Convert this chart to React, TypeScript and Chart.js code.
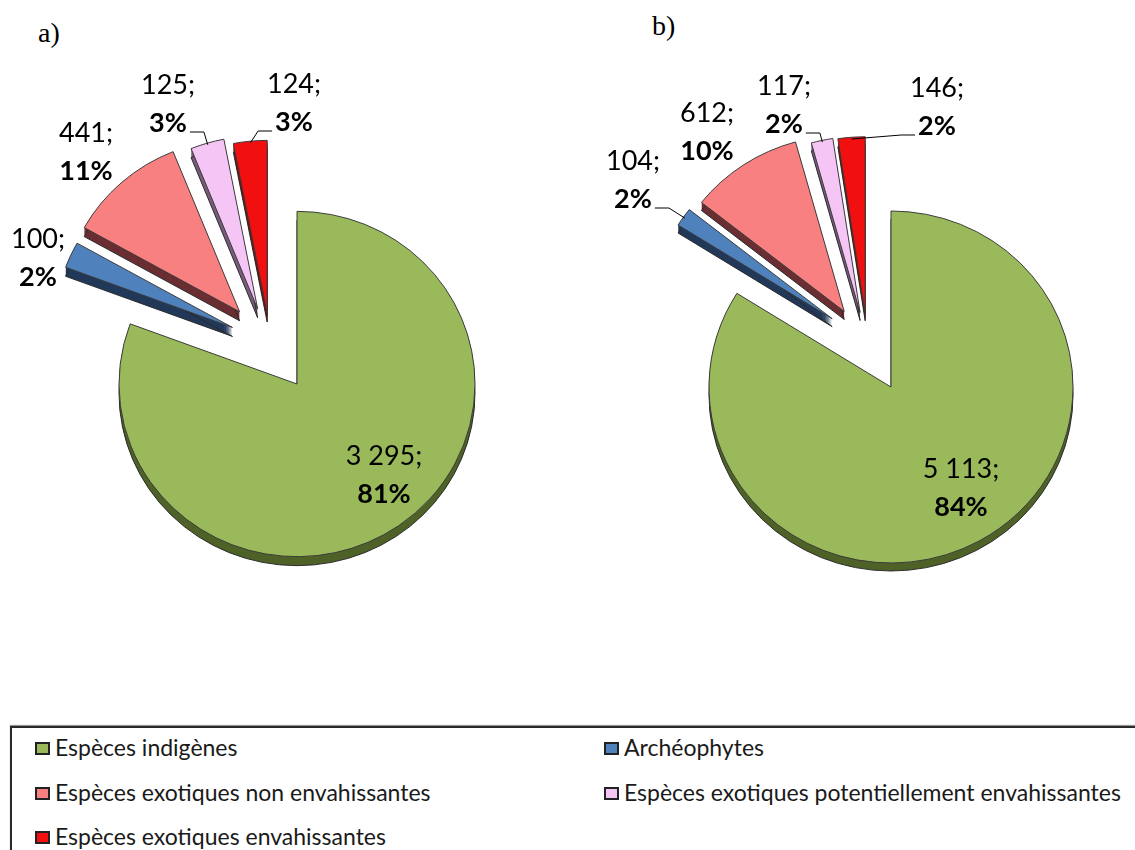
import React, { useEffect, useRef } from "react";
import { Chart, registerables } from "chart.js";

Chart.register(...registerables);

// ---------- data ----------
const categories = [
  "Espèces indigènes",
  "Archéophytes",
  "Espèces exotiques non envahissantes",
  "Espèces exotiques potentiellement envahissantes",
  "Espèces exotiques envahissantes",
];
const valuesA = [3295, 100, 441, 125, 124];
const valuesB = [5113, 104, 612, 117, 146];
const panelTitles = ["a)", "b)"];

// ---------- styles ----------
const topColors = ["#99B95A", "#4F81BD", "#F88080", "#F5C5F5", "#F20F0F"];
const sideColors = ["#4F6228", "#22395A", "#6A2E33", "#7A5C7D", "#8A0B0B"];
const LABEL_FONT = "Lato, 'Open Sans', sans-serif";

type PieCfg = {
  center: [number, number];
  radius: number;
  squash: number;
  depth: number;
  blend: number;
  explode: number[];
  labelAt: [number, number][];
  leader: string[];
};

const cfgA: PieCfg = {
  center: [297, 384],
  radius: 178,
  squash: 0.97,
  depth: 9,
  blend: 0.43,
  explode: [0, 87, 94, 87, 79],
  labelAt: [[87, 81], [-259, -136], [-211, -242], [-129, -290], [-3, -291]],
  leader: ["", "", "", "right", "left"],
};
const cfgB: PieCfg = {
  center: [891, 387],
  radius: 182,
  squash: 0.967,
  depth: 8,
  blend: 0.42,
  explode: [0, 92, 91, 83, 81],
  labelAt: [[70, 91], [-258, -217], [-184, -265], [-107, -292], [46, -290]],
  leader: ["", "right", "", "right", "left"],
};

const CW = 1135;
const CH = 700;

function fmtNum(v: number) {
  return String(v).replace(/\B(?=(\d{3})+(?!\d))/g, " ");
}

function makePlugin(cfg: PieCfg, values: number[]) {
  const total = values.reduce((a, b) => a + b, 0);
  return {
    id: "pie3d",
    afterDatasetUpdate(chart: any, args: any) {
      const arcs = args.meta.data;
      const idx = cfg.explode.map((d, i) => (d > 0 ? i : -1)).filter((i) => i >= 0);
      if (!idx.length) return;
      const gStart = Math.min(...idx.map((i) => arcs[i].startAngle));
      const gEnd = Math.max(...idx.map((i) => arcs[i].endAngle));
      const gMid = (gStart + gEnd) / 2;
      idx.forEach((i) => {
        const a = arcs[i];
        const mid = (a.startAngle + a.endAngle) / 2;
        const dir = gMid + cfg.blend * (mid - gMid);
        a.x += Math.cos(dir) * cfg.explode[i];
        a.y += Math.sin(dir) * cfg.explode[i];
      });
    },
    beforeDatasetsDraw(chart: any) {
      const ctx = chart.ctx;
      const ca = chart.chartArea;
      const cx = (ca.left + ca.right) / 2;
      const cy = (ca.top + ca.bottom) / 2;
      const sy = cfg.squash;
      ctx.save();
      ctx.translate(cx, cy);
      ctx.scale(1, sy);
      ctx.translate(-cx, -cy);
      const arcs = chart.getDatasetMeta(0).data;
      arcs.forEach((a: any, i: number) => {
        ctx.fillStyle = sideColors[i];
        for (let d = cfg.depth; d >= 1; d--) {
          const yy = a.y + d / sy;
          ctx.beginPath();
          ctx.moveTo(a.x, yy);
          ctx.arc(a.x, yy, a.outerRadius, a.startAngle, a.endAngle);
          ctx.closePath();
          ctx.fill();
        }
        const yb = a.y + cfg.depth / sy;
        ctx.beginPath();
        ctx.moveTo(a.x, yb);
        ctx.arc(a.x, yb, a.outerRadius, a.startAngle, a.endAngle);
        ctx.closePath();
        ctx.strokeStyle = "#2a2a2a";
        ctx.lineWidth = 1;
        ctx.stroke();
      });
    },
    afterDatasetsDraw(chart: any) {
      const ctx = chart.ctx;
      ctx.restore();
      const ca = chart.chartArea;
      const cx = (ca.left + ca.right) / 2;
      const cy = (ca.top + ca.bottom) / 2;
      const sy = cfg.squash;
      const arcs = chart.getDatasetMeta(0).data;
      ctx.save();
      ctx.fillStyle = "#000";
      ctx.strokeStyle = "#000";
      ctx.lineWidth = 1;
      ctx.textAlign = "center";
      ctx.textBaseline = "alphabetic";
      values.forEach((v, i) => {
        const [dx, dy] = cfg.labelAt[i];
        const x = cx + dx;
        const y = cy + dy;
        const pct = Math.round((v / total) * 100) + "%";
        ctx.font = `400 27px ${LABEL_FONT}`;
        ctx.fillText(fmtNum(v) + ";", x, y);
        ctx.font = `700 27px ${LABEL_FONT}`;
        ctx.fillText(pct, x, y + 38);
        const side = cfg.leader[i];
        if (side) {
          const w = ctx.measureText(pct).width;
          const a = arcs[i];
          const mid = (a.startAngle + a.endAngle) / 2;
          const r = a.outerRadius * 0.99;
          const tx = a.x + Math.cos(mid) * r;
          const ty = cy + (a.y + Math.sin(mid) * r - cy) * sy;
          const ly = y + 38;
          const sx = side === "right" ? x + w / 2 + 3 : x - w / 2 - 3;
          const ex = side === "right" ? sx + 14 : sx - 14;
          ctx.beginPath();
          ctx.moveTo(sx, ly);
          ctx.lineTo(ex, ly);
          ctx.lineTo(tx, ty);
          ctx.stroke();
        }
      });
      ctx.restore();
    },
  };
}

function PieCanvas({ values, cfg }: { values: number[]; cfg: PieCfg }) {
  const ref = useRef<HTMLCanvasElement>(null);
  useEffect(() => {
    const [cx, cy] = cfg.center;
    // place chart-area centre at the pie centre
    const padL = Math.max(0, 2 * cx - CW);
    const padR = Math.max(0, CW - 2 * cx);
    const padT = Math.max(0, 2 * cy - CH);
    const padB = Math.max(0, CH - 2 * cy);
    const chart = new Chart(ref.current as HTMLCanvasElement, {
      type: "pie",
      data: {
        labels: categories,
        datasets: [
          {
            data: values,
            backgroundColor: topColors,
            borderColor: "#3a3a3a",
            borderWidth: 1,
            borderJoinStyle: "miter",
            radius: cfg.radius,
            clip: false,
          } as any,
        ],
      },
      options: {
        responsive: false,
        animation: false,
        events: [],
        layout: { padding: { left: padL, right: padR, top: padT, bottom: padB } },
        plugins: { legend: { display: false }, tooltip: { enabled: false } },
      },
      plugins: [makePlugin(cfg, values) as any],
    });
    return () => chart.destroy();
  }, []);
  return (
    <canvas
      ref={ref}
      width={CW}
      height={CH}
      style={{ position: "absolute", left: 0, top: 0, width: CW, height: CH }}
    />
  );
}

const legendCols = [35, 604];
const legendBaselines = [756, 801, 845];

export default function App() {
  const legendItems = categories.map((c, i) => ({
    label: c,
    color: topColors[i],
    col: i % 2,
    row: Math.floor(i / 2),
  }));
  const titleFont = "28px 'Liberation Serif', 'Times New Roman', serif";
  return (
    <div
      style={{
        position: "absolute",
        left: 0,
        top: 0,
        width: CW,
        height: 850,
        overflow: "hidden",
        background: "#fff",
      }}
    >
      <div style={{ position: "absolute", left: 38, top: 19, font: titleFont, lineHeight: "28px" }}>
        {panelTitles[0]}
      </div>
      <div style={{ position: "absolute", left: 652, top: 12, font: titleFont, lineHeight: "28px" }}>
        {panelTitles[1]}
      </div>
      <PieCanvas values={valuesA} cfg={cfgA} />
      <PieCanvas values={valuesB} cfg={cfgB} />
      <div
        style={{
          position: "absolute",
          left: 10,
          top: 726,
          width: 1300,
          height: 300,
          border: "2px solid #2a2a2a",
          boxShadow: "0 -1px 1px #999",
          boxSizing: "border-box",
        }}
      />
      {legendItems.map((it, i) => {
        const bl = legendBaselines[it.row];
        const x = legendCols[it.col];
        return (
          <React.Fragment key={i}>
            <div
              style={{
                position: "absolute",
                left: x,
                top: bl - 14,
                width: 15,
                height: 13,
                boxSizing: "border-box",
                border: "2px solid #222",
                background: it.color,
              }}
            />
            <div
              style={{
                position: "absolute",
                left: x + 20,
                top: bl - 20,
                font: "23px Lato, 'Open Sans', sans-serif",
                lineHeight: "23px",
                color: "#1a1a1a",
                whiteSpace: "nowrap",
              }}
            >
              {it.label}
            </div>
          </React.Fragment>
        );
      })}
    </div>
  );
}
